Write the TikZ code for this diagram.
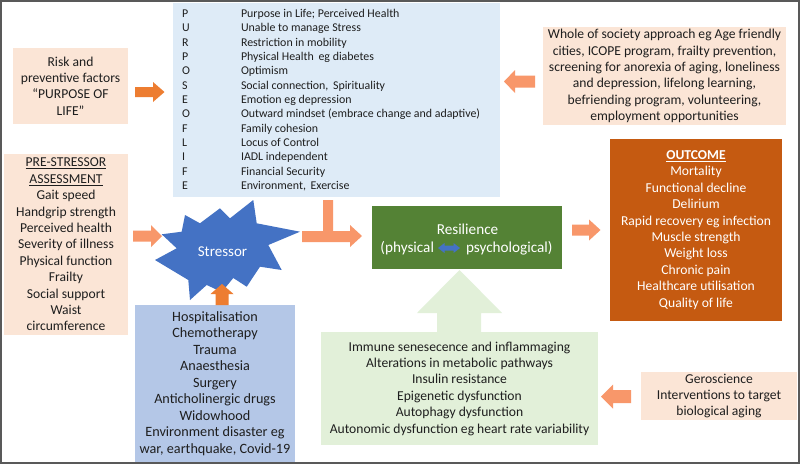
\documentclass[tikz,border=0pt]{standalone}
\usepackage{fontspec}
\setmainfont{Carlito}
\definecolor{blueL}{HTML}{DEEBF7}
\definecolor{peach}{HTML}{FBE5D6}
\definecolor{outc}{HTML}{C55A11}
\definecolor{resg}{HTML}{548235}
\definecolor{hospb}{HTML}{B4C7E7}
\definecolor{mechg}{HTML}{E2F0D9}
\definecolor{starb}{HTML}{4472C4}
\definecolor{orangeA}{HTML}{ED7D31}
\definecolor{salmon}{HTML}{F8976A}
\definecolor{txt}{HTML}{1E1E1E}
\definecolor{framec}{HTML}{595959}
\tikzset{
  box/.style={inner sep=0pt, outer sep=0pt, align=center, text=txt,
    font=\fontsize{13.6}{16.4}\selectfont},
  wbox/.style={box, text=white},
  plain/.style={inner sep=0pt, outer sep=0pt},
  restext/.style={plain, text=white, font=\fontsize{15.2}{18}\selectfont},
}
\begin{document}
\begin{tikzpicture}[x=1pt, y=-1pt]
\useasboundingbox (0,0) rectangle (800,464);
\fill[white] (0,0) rectangle (800,464);

% PURPOSE box
\node[plain, fill=blueL, anchor=north west, minimum width=327pt, minimum height=194pt] (purpose) at (173,3) {};
\node[plain, anchor=base west, text=txt, font=\fontsize{11.9}{14.35}\selectfont] (plist) at (182,17.3)
{\begin{tabular}[t]{@{}p{59pt}@{}l@{}}
P & Purpose in Life; Perceived Health\\
U & Unable to manage Stress\\
R & Restriction in mobility\\
P & Physical Health\, eg diabetes\\
O & Optimism\\
S & Social connection, \,Spirituality\\
E & Emotion eg depression\\
O & Outward mindset (embrace change and adaptive)\\
F & Family cohesion\\
L & Locus of Control\\
I & IADL independent\\
F & Financial Security\\
E & Environment, \,Exercise
\end{tabular}};

% Risk box
\node[box, fill=peach, minimum width=115pt, minimum height=76pt] (risk) at (70.5,86)
{Risk and\\preventive factors\\“PURPOSE OF\\LIFE”};

% Society box
\node[box, fill=peach, minimum width=243pt, minimum height=98pt] (society) at (664.5,76)
{Whole of society approach eg Age friendly\\cities, ICOPE program, frailty prevention,\\screening for anorexia of aging, loneliness\\and depression, lifelong learning,\\befriending program, volunteering,\\employment opportunities};

% Pre-stressor box
\node[box, fill=peach, minimum width=124pt, minimum height=181pt] (pre) at (66,244.5)
{\underline{PRE-STRESSOR}\\\underline{ASSESSMENT}\\Gait speed\\Handgrip strength\\Perceived health\\Severity of illness\\Physical function\\Frailty\\Social support\\Waist\\circumference};

% Outcome box
\node[wbox, fill=outc, minimum width=172pt, minimum height=182pt] (outcome) at (696,230)
{\textbf{\underline{OUTCOME}}\\Mortality\\Functional decline\\Delirium\\Rapid recovery eg infection\\Muscle strength\\Weight loss\\Chronic pain\\Healthcare utilisation\\Quality of life};

% Hospitalisation box
\node[box, fill=hospb, minimum width=160pt, minimum height=157pt, font=\fontsize{14.2}{16.5}\selectfont] (hosp) at (215,383.5)
{Hospitalisation\\Chemotherapy\\Trauma\\Anaesthesia\\Surgery\\Anticholinergic drugs\\Widowhood\\Environment disaster eg\\war, earthquake, Covid-19};

% Big green arrow
\fill[mechg] (437,333) -- (437,313) -- (417,313) -- (459.5,270) -- (502,313) -- (481,313) -- (481,333) -- cycle;

% Mechanisms box
\node[box, fill=mechg, minimum width=277pt, minimum height=113pt] (mech) at (459.5,388.5)
{Immune senesecence and inflammaging\\Alterations in metabolic pathways\\Insulin resistance\\Epigenetic dysfunction\\Autophagy dysfunction\\Autonomic dysfunction eg heart rate variability};

% Geroscience box
\node[box, fill=peach, minimum width=156pt, minimum height=48pt] (gero) at (719,396)
{Geroscience\\Interventions to target\\biological aging};

% Resilience box
\node[plain, fill=resg, minimum width=190pt, minimum height=63pt] (resil) at (467,237.5) {};
\node[restext] (restitle) at (467.5,229) {Resilience};
\node[restext, anchor=east] (phys) at (434,248) {(physical};
\node[restext, anchor=west] (psych) at (466,248) {psychological)};
\fill[starb] (438,248) -- (444.5,243) -- (444.5,245.5) -- (453.5,245.5) -- (453.5,243) -- (460,248)
  -- (453.5,253) -- (453.5,250.5) -- (444.5,250.5) -- (444.5,253) -- cycle;

% Stressor star
\fill[starb] (161.7,234.3) -- (181.7,231.7) -- (185,215) -- (200,223.3) -- (220,208.3)
  -- (230,218.3) -- (253.3,200) -- (256.7,223.3) -- (300,231.7) -- (268.3,245)
  -- (281.7,270) -- (260,266.7) -- (246.7,286.7) -- (233.3,278) -- (221.7,292)
  -- (206.7,285) -- (190,300) -- (188.3,280) -- (155,260) -- (176.7,248.3) -- cycle;
\node[plain, text=white, font=\fontsize{15}{17}\selectfont] (stressor) at (222.5,252) {Stressor};

% Block arrows
% Risk -> PURPOSE (orange)
\fill[orangeA] (135,87) -- (153,87) -- (153,82) -- (164.5,92) -- (153,102) -- (153,97) -- (135,97) -- cycle;
% Society -> PURPOSE (salmon, left)
\fill[salmon] (535,75.5) -- (515,75.5) -- (515,70) -- (504,81.5) -- (515,93) -- (515,87.5) -- (535,87.5) -- cycle;
% Pre -> Stressor (salmon)
\fill[salmon] (133,230.5) -- (151,230.5) -- (151,225) -- (162,236) -- (151,247) -- (151,241.5) -- (133,241.5) -- cycle;
% Hosp -> Stressor (orange, up)
\fill[orangeA] (215.5,305) -- (215.5,294) -- (210.5,294) -- (222,284) -- (233.5,294) -- (228.5,294) -- (228.5,305) -- cycle;
% PURPOSE -> Resilience (T connector, salmon)
\fill[salmon] (323,200) -- (333,200) -- (333,231) -- (350,231) -- (350,225) -- (362,236)
  -- (350,247) -- (350,242) -- (302,242) -- (302,231) -- (323,231) -- cycle;
% Resilience -> Outcome (salmon)
\fill[salmon] (572,224.5) -- (589,224.5) -- (589,219.5) -- (600.5,230) -- (589,240.5) -- (589,235.5) -- (572,235.5) -- cycle;
% Geroscience -> Mechanisms (salmon, left)
\fill[salmon] (631,390) -- (613,390) -- (613,384.5) -- (601,396.5) -- (613,408.5) -- (613,403) -- (631,403) -- cycle;

% frame
\draw[framec, line width=2pt] (1,1) rectangle (799,463);
\end{tikzpicture}
\end{document}
